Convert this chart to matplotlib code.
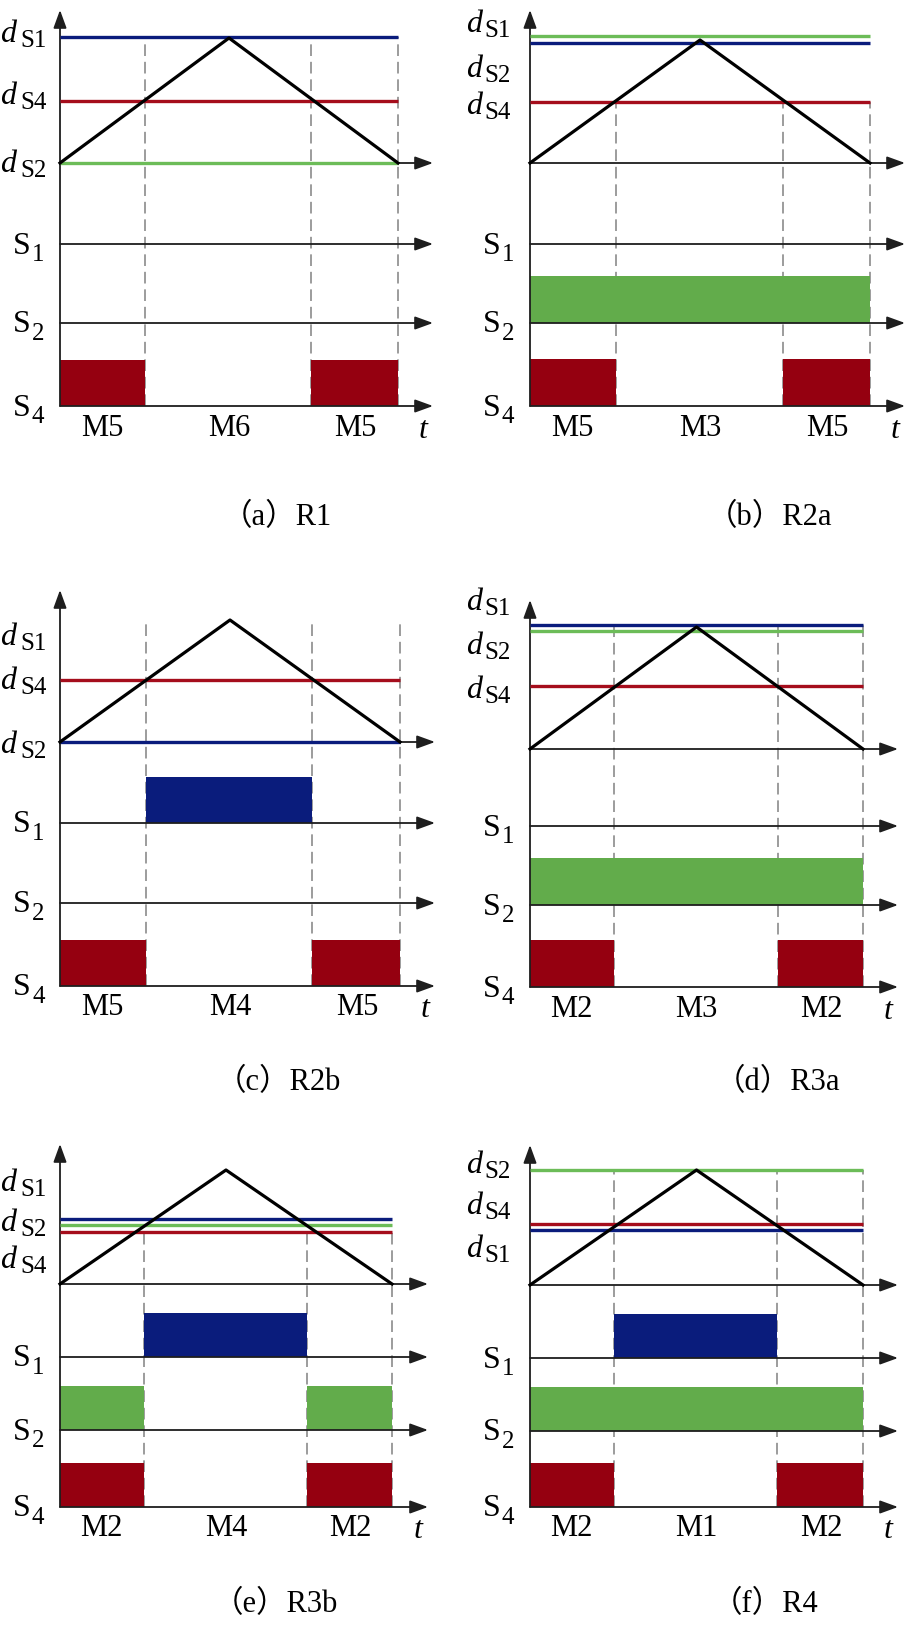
import matplotlib

matplotlib.use("Agg")
import matplotlib.pyplot as plt

W, H = 906, 1638

# colours
BLUE = "#0a1c7c"
GREEN = "#6cbc58"
GREEN_BLOCK = "#62ac4b"
RED = "#a50d1c"
RED_BLOCK = "#950010"
AXIS = "#1e1e1e"
DASH = "#9c9c9c"
SWITCH_COLOR = {"S1": BLUE, "S2": GREEN, "S4": RED}
BLOCK_COLOR = {"S1": BLUE, "S2": GREEN_BLOCK, "S4": RED_BLOCK}

SERIF = "Liberation Serif"
CAPTION_FONT = ["Liberation Serif", "Noto Sans CJK SC"]

# --- data ---------------------------------------------------------------
panel_tags = ["a", "b", "c", "d", "e", "f"]
panel_names = ["R1", "R2a", "R2b", "R3a", "R3b", "R4"]
mode_labels = [
    ["M5", "M6", "M5"],
    ["M5", "M3", "M5"],
    ["M5", "M4", "M5"],
    ["M2", "M3", "M2"],
    ["M2", "M4", "M2"],
    ["M2", "M1", "M2"],
]

# triangular carrier (normalised time, normalised level)
carrier_t = [0.0, 0.5, 1.0]
carrier_v = [0.0, 1.0, 0.0]

# duty-cycle reference lines per panel: level and which switch colour
duty_levels = [
    [1.01, 0.50, 0.0],
    [1.03, 0.976, 0.50],
    [0.508, 0.0],
    [1.016, 0.967, 0.516],
    [0.570, 0.518, 0.456],
    [1.0, 0.53, 0.478],
]
duty_switch = [
    ["S1", "S4", "S2"],
    ["S2", "S1", "S4"],
    ["S4", "S1"],
    ["S1", "S2", "S4"],
    ["S1", "S2", "S4"],
    ["S2", "S4", "S1"],
]
# y-axis labels (top to bottom)
duty_names = [
    ["S1", "S4", "S2"],
    ["S1", "S2", "S4"],
    ["S1", "S4", "S2"],
    ["S1", "S2", "S4"],
    ["S1", "S2", "S4"],
    ["S2", "S4", "S1"],
]

# switching instants (dashed lines) and where the dashes start
dash_t = [
    [0.252, 0.744, 1.0],
    [0.253, 0.744, 1.0],
    [0.253, 0.741, 1.0],
    [0.252, 0.745, 1.0],
    [0.253, 0.744, 1.0],
    [0.252, 0.742, 1.0],
]
dash_top = [1.01, 0.50, 1.0, 1.016, 0.456, 1.0]

# gate-on intervals
s1_on = [[], [], [(0.253, 0.741)], [], [(0.253, 0.744)], [(0.252, 0.742)]]
s2_on = [[], [(0.0, 1.0)], [], [(0.0, 1.0)], [(0.0, 0.253), (0.744, 1.0)], [(0.0, 1.0)]]
s4_on = [
    [(0.0, 0.252), (0.744, 1.0)],
    [(0.0, 0.253), (0.744, 1.0)],
    [(0.0, 0.253), (0.741, 1.0)],
    [(0.0, 0.252), (0.745, 1.0)],
    [(0.0, 0.253), (0.744, 1.0)],
    [(0.0, 0.252), (0.742, 1.0)],
]

# --- layout (pixels) ----------------------------------------------------
layout = [
    dict(x0=60, x1=398, arrow=433, top=10, zero=163, amp=125, s1=244, s2=323, s4=406,
         block=46, lab=[40, 102, 170], cap=(277, 518)),
    dict(x0=530, x1=870, arrow=905, top=10, zero=163, amp=123, s1=244, s2=323, s4=406,
         block=47, lab=[30, 75, 112], cap=(770, 518)),
    dict(x0=60, x1=400, arrow=435, top=590, zero=742, amp=122, s1=823, s2=903, s4=986,
         block=46, lab=[643, 687, 751], cap=(278, 1083)),
    dict(x0=530, x1=863, arrow=898, top=600, zero=749, amp=122, s1=826, s2=905, s4=987,
         block=47, lab=[608, 652, 696], cap=(778, 1083)),
    dict(x0=60, x1=392, arrow=428, top=1144, zero=1284, amp=114, s1=1357, s2=1430, s4=1507,
         block=44, lab=[1189, 1229, 1266], cap=(275, 1605)),
    dict(x0=530, x1=863, arrow=898, top=1145, zero=1285, amp=115, s1=1358, s2=1431, s4=1507,
         block=44, lab=[1171, 1212, 1255], cap=(765, 1605)),
]
mode_pos = [0.125, 0.5, 0.875]

fig = plt.figure(figsize=(W / 100, H / 100), dpi=100)
fig.patch.set_facecolor("white")


def arrow(ax, start, end, lw=1.3):
    ax.annotate(
        "",
        xy=end,
        xytext=start,
        arrowprops=dict(
            arrowstyle="-|>,head_length=0.55,head_width=0.2",
            mutation_scale=20,
            color=AXIS,
            lw=lw,
            shrinkA=0,
            shrinkB=0,
        ),
        zorder=5,
    )


for i, L in enumerate(layout):
    span = L["x1"] - L["x0"]
    amp = L["amp"]
    zero = L["zero"]

    def lv(py):
        return (zero - py) / amp

    def tt(px):
        return (px - L["x0"]) / span

    ax = fig.add_axes([0, 0, 1, 1])
    ax.set_axis_off()
    ax.patch.set_alpha(0)
    ax.set_xlim(tt(0), tt(W))
    ax.set_ylim(lv(H), lv(0))

    track = {"S1": lv(L["s1"]), "S2": lv(L["s2"]), "S4": lv(L["s4"])}
    bh = L["block"] / amp

    # dashed switching lines
    ax.vlines(dash_t[i], track["S4"], dash_top[i], colors=DASH, lw=1.4,
              linestyles=(0, (6, 3)), zorder=1)

    # gate blocks
    for name, on in (("S1", s1_on[i]), ("S2", s2_on[i]), ("S4", s4_on[i])):
        for a, b in on:
            ax.bar(a, bh, width=b - a, bottom=track[name], align="edge",
                   color=BLOCK_COLOR[name], lw=0, zorder=2)

    # axes with arrows
    arrow(ax, (0, track["S4"]), (0, lv(L["top"])))
    for y in (0.0, track["S1"], track["S2"], track["S4"]):
        arrow(ax, (0, y), (tt(L["arrow"]), y))

    # duty lines and carrier
    for lvl, sw in zip(duty_levels[i], duty_switch[i]):
        ax.plot([0, 1], [lvl, lvl], color=SWITCH_COLOR[sw], lw=2.4,
                solid_capstyle="butt", zorder=6)
    ax.plot(carrier_t, carrier_v, color="black", lw=2.3, zorder=7)

    # y labels for duty lines
    left = i % 2 == 0
    dx = 0 if left else 466
    sx = 20 if left else 484
    for name, py in zip(duty_names[i], L["lab"]):
        ax.text(tt(dx), lv(py + 2), "d", fontsize=23, family=SERIF,
                style="italic", ha="left", va="baseline")
        ax.text(tt(sx), lv(py + 1), name, fontsize=18, family=SERIF,
                ha="left", va="center")

    # switch labels
    Sx = 13 if left else 483
    for name in ("S1", "S2", "S4"):
        y = track[name]
        ax.text(tt(Sx), y - 2 / amp, "S", fontsize=23, family=SERIF,
                ha="left", va="center")
        ax.text(tt(Sx + 19), y - 11 / amp, name[1], fontsize=18,
                family=SERIF, ha="left", va="center")

    # mode labels and time label
    for t, m in zip(mode_pos, mode_labels[i]):
        ax.text(t, track["S4"] - 22 / amp, m, fontsize=22, family=SERIF,
                ha="center", va="center")
    ax.text(tt(L["arrow"] - 10), track["S4"] - 24 / amp, "t", fontsize=23,
            family=SERIF, style="italic", ha="center", va="center")

    # caption
    cx, cy = L["cap"]
    ax.text(tt(cx), lv(cy), f"（{panel_tags[i]}）{panel_names[i]}",
            fontsize=22, family=CAPTION_FONT, ha="center", va="center")

fig.savefig("out.png", dpi=100)
